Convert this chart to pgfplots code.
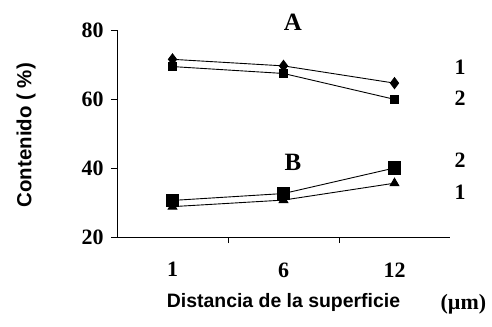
\documentclass[border=0pt]{standalone}
\usepackage{pgfplots}
\pgfplotsset{compat=1.18}
\usepackage{fontspec}
\setmainfont{Liberation Serif}
\newfontfamily\arialf{Liberation Sans}
\begin{document}
\begin{tikzpicture}
\path[use as bounding box] (0,0) rectangle (492bp,327bp);
\begin{axis}[
  at={(117bp,90bp)}, anchor=south west,
  scale only axis, width=333bp, height=207bp,
  xmin=0.5, xmax=3.5, ymin=20, ymax=80,
  axis lines*=left,
  axis line style={line width=0.7pt},
  clip=false,
  tick align=outside,
  major tick length=6bp,
  tick style={line width=0.7pt, black},
  xtick={1.5,2.5}, xticklabels={},
  extra x ticks={1,2,3},
  extra x tick labels={1,6,12},
  extra x tick style={major tick length=0pt},
  ytick={20,40,60,80},
  /pgf/number format/assume math mode=true,
  ticklabel style={font=\fontsize{22}{24}\selectfont\bfseries},
  yticklabel style={xshift=-4bp},
  xticklabel style={yshift=-22bp},
]
\addplot[black, line width=0.9pt, mark=diamond*, mark size=5.5pt] coordinates {(1,71.5) (2,69.6) (3,64.6)};
\addplot[black, line width=0.9pt, mark=square*, mark size=4.2pt] coordinates {(1,69.4) (2,67.4) (3,59.9)};
\addplot[black, line width=0.9pt, mark=square*, mark size=6.2pt] coordinates {(1,30.6) (2,32.6) (3,40.0)};
\addplot[black, line width=0.9pt, mark=triangle*, mark size=5pt] coordinates {(1,28.8) (2,30.7) (3,35.6)};
\node[font=\fontsize{25}{27}\selectfont\bfseries] at (axis cs:2.085,82.3) {A};
\node[font=\fontsize{25}{27}\selectfont\bfseries] at (axis cs:2.085,41.7) {B};
\node[font=\fontsize{22}{24}\selectfont\bfseries] at (axis cs:3.59,69.3) {1};
\node[font=\fontsize{22}{24}\selectfont\bfseries] at (axis cs:3.59,60.3) {2};
\node[font=\fontsize{22}{24}\selectfont\bfseries] at (axis cs:3.59,42.3) {2};
\node[font=\fontsize{22}{24}\selectfont\bfseries] at (axis cs:3.59,33.0) {1};
\node[font=\arialf\fontsize{19.5}{22}\selectfont\bfseries] at (axis cs:2.0,1.0) {Distancia de la superficie};
\node[font=\fontsize{22}{24}\selectfont\bfseries] at (axis cs:3.62,0.5) {(µm)};
\node[rotate=90, font=\arialf\fontsize{20.5}{22}\selectfont\bfseries] at (axis cs:-0.32,49.5) {Contenido ( \%)};
\end{axis}
\end{tikzpicture}
\end{document}
